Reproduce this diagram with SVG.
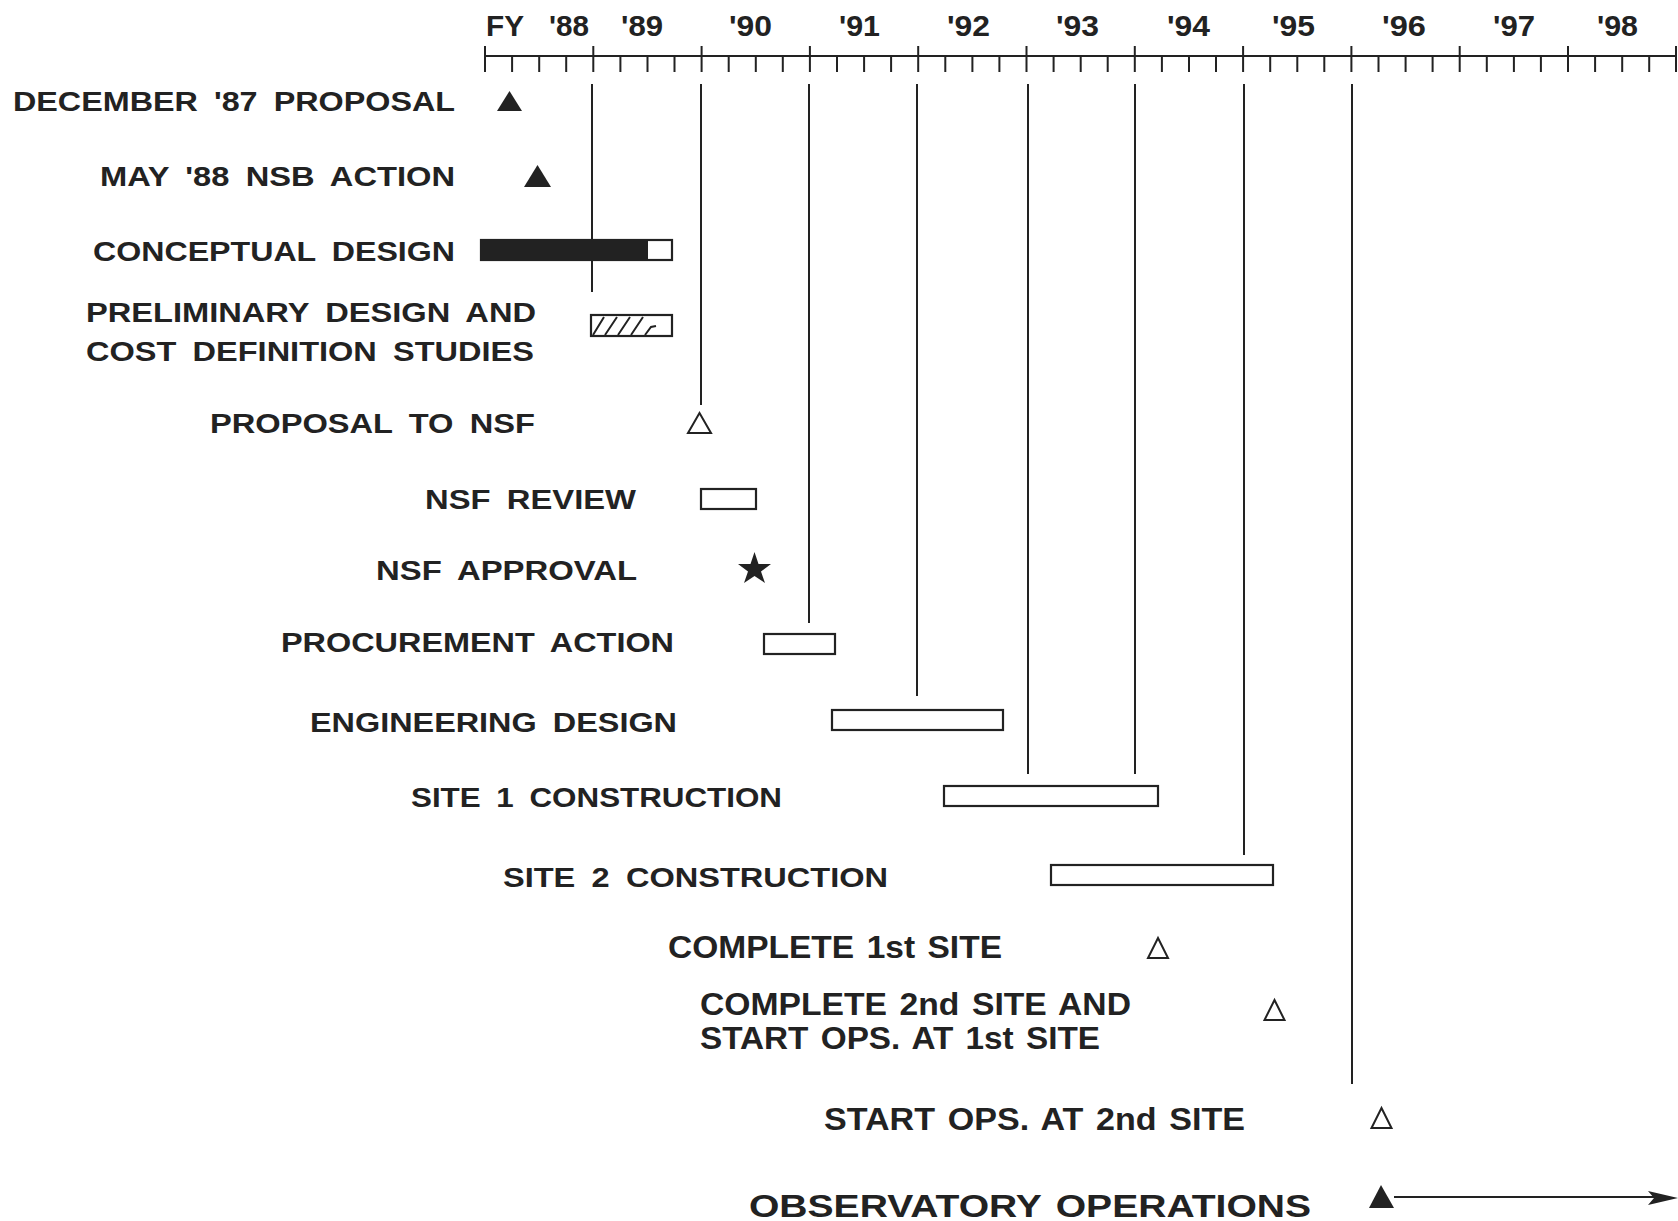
<svg xmlns="http://www.w3.org/2000/svg" width="1678" height="1221" viewBox="0 0 1678 1221">
<style>
.lbl{font-family:"Liberation Sans",Arial,sans-serif;font-weight:bold;font-size:27px;fill:#222;word-spacing:6px}
.cnd{font-family:"Liberation Sans",Arial,sans-serif;font-weight:bold;font-size:32px;fill:#222;word-spacing:3px}
.yr{font-family:"Liberation Sans",Arial,sans-serif;font-weight:bold;font-size:30px;fill:#222}
.bar{fill:#fff;stroke:#222;stroke-width:2.2}
.ln{stroke:#222;stroke-width:2;fill:none}
.open{fill:#fff;stroke:#222;stroke-width:2}
.solid{fill:#222;stroke:none}
</style>
<rect width="1678" height="1221" fill="#fff"/>
<g id="axis">
<line class="ln" x1="485" y1="56" x2="1677" y2="56"/>
<path class="ln" d="M485,46V72M593.3,46V72M701.6,46V72M809.9,46V72M918.2,46V72M1026.5,46V72M1134.8,46V72M1243.1,46V72M1351.4,46V72M1459.7,46V72M1568,46V72M1676,46V72"/>
<path class="ln" d="M512.1,56V72M539.2,56V72M566.2,56V72M620.4,56V72M647.5,56V72M674.5,56V72M728.7,56V72M755.8,56V72M782.8,56V72M837,56V72M864.1,56V72M891.1,56V72M945.3,56V72M972.4,56V72M999.4,56V72M1053.6,56V72M1080.7,56V72M1107.7,56V72M1161.9,56V72M1189,56V72M1216,56V72M1270.2,56V72M1297.3,56V72M1324.3,56V72M1378.5,56V72M1405.6,56V72M1432.6,56V72M1486.8,56V72M1513.9,56V72M1540.9,56V72M1595.1,56V72M1622.2,56V72M1649.2,56V72"/>
<text class="yr" x="486" y="36" textLength="38" lengthAdjust="spacingAndGlyphs">FY</text>
<text class="yr" x="549" y="36" textLength="40" lengthAdjust="spacingAndGlyphs">'88</text>
<text class="yr" x="621" y="36" textLength="42" lengthAdjust="spacingAndGlyphs">'89</text>
<text class="yr" x="729" y="36" textLength="43" lengthAdjust="spacingAndGlyphs">'90</text>
<text class="yr" x="839" y="36" textLength="41" lengthAdjust="spacingAndGlyphs">'91</text>
<text class="yr" x="947" y="36" textLength="43" lengthAdjust="spacingAndGlyphs">'92</text>
<text class="yr" x="1056" y="36" textLength="43" lengthAdjust="spacingAndGlyphs">'93</text>
<text class="yr" x="1167" y="36" textLength="43" lengthAdjust="spacingAndGlyphs">'94</text>
<text class="yr" x="1272" y="36" textLength="43" lengthAdjust="spacingAndGlyphs">'95</text>
<text class="yr" x="1382" y="36" textLength="44" lengthAdjust="spacingAndGlyphs">'96</text>
<text class="yr" x="1493" y="36" textLength="42" lengthAdjust="spacingAndGlyphs">'97</text>
<text class="yr" x="1597" y="36" textLength="41" lengthAdjust="spacingAndGlyphs">'98</text>
</g>
<g id="connectors">
<line class="ln" x1="592" y1="84" x2="592" y2="292"/>
<line class="ln" x1="701" y1="84" x2="701" y2="405"/>
<line class="ln" x1="809" y1="84" x2="809" y2="623"/>
<line class="ln" x1="917" y1="84" x2="917" y2="696"/>
<line class="ln" x1="1028" y1="84" x2="1028" y2="774"/>
<line class="ln" x1="1135" y1="84" x2="1135" y2="774"/>
<line class="ln" x1="1244" y1="84" x2="1244" y2="855"/>
<line class="ln" x1="1352" y1="84" x2="1352" y2="1084"/>
</g>
<g id="dec87">
<text class="lbl" x="13" y="111" textLength="442" lengthAdjust="spacingAndGlyphs">DECEMBER '87 PROPOSAL</text>
<polygon class="solid" points="509.5,91 522,111 497,111"/>
</g>
<g id="may88">
<text class="lbl" x="100" y="186" textLength="355" lengthAdjust="spacingAndGlyphs">MAY '88 NSB ACTION</text>
<polygon class="solid" points="537.5,165 551,187 524,187"/>
</g>
<g id="conceptual">
<text class="lbl" x="93" y="261" textLength="362" lengthAdjust="spacingAndGlyphs">CONCEPTUAL DESIGN</text>
<rect class="bar" x="481" y="240" width="191" height="20"/>
<rect class="solid" x="481" y="240" width="167" height="20"/>
</g>
<g id="preliminary">
<text class="lbl" x="86" y="322" textLength="450" lengthAdjust="spacingAndGlyphs">PRELIMINARY DESIGN AND</text>
<text class="lbl" x="86" y="361" textLength="448" lengthAdjust="spacingAndGlyphs">COST DEFINITION STUDIES</text>
<rect class="bar" x="591" y="315" width="81" height="21"/>
<path class="ln" d="M593,335L604,317M605,335L617,317M618,335L630,317M631,335L643,317M645,335L651,327L656,326"/>
</g>
<g id="proposal">
<text class="lbl" x="210" y="433" textLength="325" lengthAdjust="spacingAndGlyphs">PROPOSAL TO NSF</text>
<polygon class="open" points="699.5,413 711,433 688,433"/>
</g>
<g id="review">
<text class="lbl" x="425" y="509" textLength="211" lengthAdjust="spacingAndGlyphs">NSF REVIEW</text>
<rect class="bar" x="701" y="489" width="55" height="20"/>
</g>
<g id="approval">
<text class="lbl" x="376" y="580" textLength="261" lengthAdjust="spacingAndGlyphs">NSF APPROVAL</text>
<polygon class="solid" points="754.5,552 758.5,564 771,564 761,571.5 765,583 754.5,576 744,583 748,571.5 738,564 750.5,564"/>
</g>
<g id="procurement">
<text class="lbl" x="281" y="652" textLength="393" lengthAdjust="spacingAndGlyphs">PROCUREMENT ACTION</text>
<rect class="bar" x="764" y="634" width="71" height="20"/>
</g>
<g id="engineering">
<text class="lbl" x="310" y="732" textLength="367" lengthAdjust="spacingAndGlyphs">ENGINEERING DESIGN</text>
<rect class="bar" x="832" y="710" width="171" height="20"/>
</g>
<g id="site1">
<text class="lbl" x="411" y="807" word-spacing="3" textLength="371" lengthAdjust="spacingAndGlyphs">SITE 1 CONSTRUCTION</text>
<rect class="bar" x="944" y="786" width="214" height="20"/>
</g>
<g id="site2">
<text class="lbl" x="503" y="887" textLength="385" lengthAdjust="spacingAndGlyphs">SITE 2 CONSTRUCTION</text>
<rect class="bar" x="1051" y="865" width="222" height="20"/>
</g>
<g id="complete1">
<text class="cnd" x="668" y="958" textLength="334" lengthAdjust="spacingAndGlyphs">COMPLETE 1st SITE</text>
<polygon class="open" points="1158,938 1168,958 1148,958"/>
</g>
<g id="complete2">
<text class="cnd" x="700" y="1015" textLength="431" lengthAdjust="spacingAndGlyphs">COMPLETE 2nd SITE AND</text>
<text class="cnd" x="700" y="1048.5" textLength="400" lengthAdjust="spacingAndGlyphs">START OPS. AT 1st SITE</text>
<polygon class="open" points="1274.5,1000 1284.5,1020 1264.5,1020"/>
</g>
<g id="startops2">
<text class="cnd" x="824" y="1130" textLength="421" lengthAdjust="spacingAndGlyphs">START OPS. AT 2nd SITE</text>
<polygon class="open" points="1381.5,1108 1391.5,1128 1371.5,1128"/>
</g>
<g id="operations">
<text class="cnd" x="749" y="1217" font-size="44" textLength="562" lengthAdjust="spacingAndGlyphs">OBSERVATORY OPERATIONS</text>
<polygon class="solid" points="1381,1185 1394,1208 1369,1208"/>
<line class="ln" x1="1394" y1="1197" x2="1655" y2="1197"/>
<polygon class="solid" points="1678,1198 1648,1191 1654,1198 1648,1205"/>
</g>
</svg>
